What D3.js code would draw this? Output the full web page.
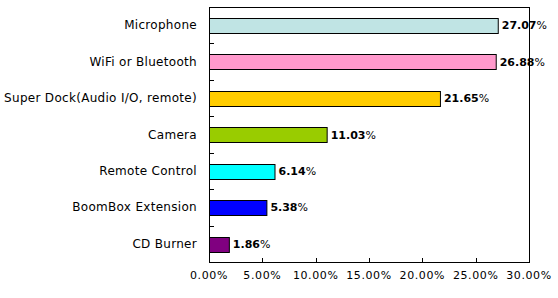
<!DOCTYPE html>
<html>
<head>
<meta charset="utf-8">
<script src="https://cdn.jsdelivr.net/npm/d3@7"></script>
<style>
  body { margin: 0; background: #fff; }
  text { font-family: "DejaVu Sans", Verdana, sans-serif; font-size: 11px; fill: #000; }
  .cat { font-size: 12px; letter-spacing: 0.3px; }
  .tick { letter-spacing: 0.6px; }
</style>
</head>
<body>
<svg id="chart" width="558" height="298"></svg>
<script>
// data
const categories = ["Microphone", "WiFi or Bluetooth", "Super Dock(Audio I/O, remote)", "Camera", "Remote Control", "BoomBox Extension", "CD Burner"];
const values = [27.07, 26.88, 21.65, 11.03, 6.14, 5.38, 1.86];
const colors = ["#C0E4E4", "#FF99CC", "#FFCC00", "#99CC00", "#00FFFF", "#0000FF", "#800080"];
const xTicks = [0, 5, 10, 15, 20, 25, 30];

const margin = { left: 209, right: 29, top: 7, bottom: 36 };
const W = 558, H = 298;

const svg = d3.select("#chart");

const x = d3.scaleLinear()
    .domain([0, 30])
    .range([margin.left, W - margin.right]);

const y = d3.scaleBand()
    .domain(categories)
    .range([margin.top, H - margin.bottom]);

const barH = y.bandwidth() / 2.5;

// plot box
svg.append("rect")
    .attr("x", x(0) + 0.5)
    .attr("y", margin.top + 0.5)
    .attr("width", x(30) - x(0))
    .attr("height", y.range()[1] - y.range()[0])
    .attr("fill", "none")
    .attr("stroke", "#000");

// bars
svg.append("g")
    .selectAll("rect")
    .data(values)
    .join("rect")
    .attr("x", x(0) + 0.5)
    .attr("y", (d, i) => Math.round(y(categories[i]) + (y.bandwidth() - barH) / 2) + 0.5)
    .attr("width", d => x(d) - x(0))
    .attr("height", Math.round(barH))
    .attr("fill", (d, i) => colors[i])
    .attr("stroke", "#000");

// value labels: bold number, plain percent sign
let lbl = svg.append("g")
    .selectAll("text")
    .data(values)
    .join("text")
    .attr("x", d => x(d) + 4)
    .attr("y", (d, i) => y(categories[i]) + y.bandwidth() / 2 + 4);
lbl.append("tspan").attr("font-weight", "bold").text(d => d.toFixed(2));
lbl.append("tspan").text("%");

// y axis: ticks inward at band boundaries
const yAxis = svg.append("g");
const bounds = d3.range(1, categories.length).map(i => Math.round(y.range()[0] + i * y.step()) + 0.5);
yAxis.selectAll("line")
    .data(bounds)
    .join("line")
    .attr("x1", x(0) + 0.5).attr("x2", x(0) + 5)
    .attr("y1", d => d).attr("y2", d => d)
    .attr("stroke", "#000");
yAxis.selectAll("text")
    .data(categories)
    .join("text")
    .attr("class", "cat")
    .attr("x", x(0) - 12)
    .attr("y", d => y(d) + y.bandwidth() / 2 + 4)
    .attr("text-anchor", "end")
    .text(d => d);

// x axis: ticks inward, labels below
const xAxis = svg.append("g");
const bottom = y.range()[1];
xAxis.selectAll("line")
    .data(xTicks.slice(1, -1))
    .join("line")
    .attr("x1", d => Math.round(x(d)) + 0.5).attr("x2", d => Math.round(x(d)) + 0.5)
    .attr("y1", bottom + 0.5).attr("y2", bottom - 4)
    .attr("stroke", "#000");
xAxis.selectAll("text")
    .data(xTicks)
    .join("text")
    .attr("class", "tick")
    .attr("x", d => x(d))
    .attr("y", bottom + 17)
    .attr("text-anchor", "middle")
    .text(d => d.toFixed(2) + "%");
</script>
</body>
</html>
